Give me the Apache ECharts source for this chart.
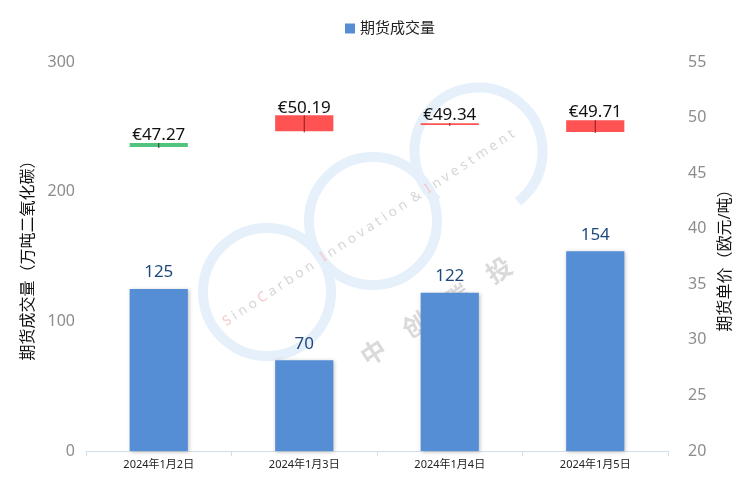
<!DOCTYPE html>
<html>
<head>
<meta charset="utf-8">
<script src="https://cdn.jsdelivr.net/npm/echarts@6/dist/echarts.min.js"></script>
<style>
html,body{margin:0;padding:0;background:#fff;}
#chart{width:744px;height:483px;}
</style>
</head>
<body>
<div id="chart"></div>
<script>
const categories = ['2024年1月2日', '2024年1月3日', '2024年1月4日', '2024年1月5日'];
const volume = [125, 70, 122, 154];
const priceOpen = [47.72, 48.76, 49.34, 48.70];
const priceClose = [47.35, 50.21, 49.50, 49.77];
const priceLabel = [47.27, 50.19, 49.34, 49.71];
const volAxis = [0, 300, 100];
const priceAxis = [20, 55, 5];

const FONT = '"Noto Sans", "Noto Sans CJK SC", sans-serif';
const deg = Math.PI / 180;
const ringColor = '#e6f0fa';
const sp = s => s.split('').join(' ');

const chart = echarts.init(document.getElementById('chart'), null, {renderer: 'canvas'});

const wm = [
  {type: 'circle', z: 0, silent: true, shape: {cx: 267, cy: 292, r: 64}, style: {fill: 'none', stroke: ringColor, lineWidth: 10}},
  {type: 'circle', z: 0, silent: true, shape: {cx: 373, cy: 221, r: 64}, style: {fill: 'none', stroke: ringColor, lineWidth: 10}},
  {type: 'arc', z: 0, silent: true, shape: {cx: 478.5, cy: 151.5, r: 64, startAngle: 130 * deg, endAngle: 52 * deg, clockwise: true}, style: {fill: 'none', stroke: ringColor, lineWidth: 10}},
  {type: 'text', z: 1, silent: true, x: 224, y: 323, rotation: 33.3 * deg,
    style: {
      text: '{r|S}{g| ' + sp('ino') + ' }{r|C}{g| ' + sp('arbon') + '   }{r|I}{g| ' + sp('nnovation') + '  &  }{r|I}{g| ' + sp('nvestment') + '}',
      font: '13.6px ' + FONT, align: 'left', verticalAlign: 'middle',
      rich: {r: {fill: '#f6c8c8', fontSize: 13.6, fontFamily: FONT}, g: {fill: '#d6d6d6', fontSize: 13.6, fontFamily: FONT}}
    }},
  {type: 'text', z: 1, silent: true, x: 436, y: 311, rotation: 33.3 * deg,
    style: {text: '中　创　碳　投', font: 'bold 25px "Noto Sans CJK SC", sans-serif', fill: '#dadada', align: 'center', verticalAlign: 'middle'}}
];

const option = {
  backgroundColor: '#fff',
  animation: false,
  textStyle: {fontFamily: FONT},
  graphic: {elements: wm},
  legend: {
    data: ['期货成交量'], top: 16, left: 340,
    icon: 'rect', itemWidth: 10, itemHeight: 10, itemGap: 6,
    textStyle: {fontSize: 15, color: '#222', fontFamily: FONT}
  },
  grid: {left: 86, right: 76, top: 62, bottom: 32},
  xAxis: {
    type: 'category', data: categories,
    axisLine: {lineStyle: {color: '#d3deec', width: 1}},
    axisTick: {show: true, length: 5, lineStyle: {color: '#d3deec'}},
    axisLabel: {fontSize: 11, color: '#222', margin: 8, fontFamily: FONT}
  },
  yAxis: [
    {
      type: 'value', min: volAxis[0], max: volAxis[1], interval: volAxis[2],
      name: '期货成交量（万吨二氧化碳）', nameLocation: 'middle', nameRotate: 90, nameGap: 50,
      nameTextStyle: {fontSize: 16, color: '#111', fontFamily: FONT},
      axisLine: {show: false}, axisTick: {show: false}, splitLine: {show: false},
      axisLabel: {fontSize: 16, color: '#8c8c8c', margin: 11, fontFamily: FONT}
    },
    {
      type: 'value', min: priceAxis[0], max: priceAxis[1], interval: priceAxis[2],
      name: '期货单价（欧元/吨）', nameLocation: 'middle', nameRotate: 90, nameGap: 46,
      nameTextStyle: {fontSize: 16, color: '#111', fontFamily: FONT},
      axisLine: {show: false}, axisTick: {show: false}, splitLine: {show: false},
      axisLabel: {fontSize: 16, color: '#8c8c8c', margin: 20, fontFamily: FONT}
    }
  ],
  series: [
    {
      name: '期货成交量', type: 'bar', yAxisIndex: 0, data: volume, barWidth: '40%', z: 2,
      itemStyle: {color: '#558ed5', shadowBlur: 4, shadowColor: 'rgba(0,0,0,0.25)', shadowOffsetX: 1, shadowOffsetY: 1},
      label: {show: true, position: 'top', distance: 8, fontSize: 17, color: '#1f497d', fontFamily: FONT}
    },
    {
      name: '期货单价', type: 'custom', yAxisIndex: 1, z: 3,
      data: categories.map((c, i) => [i, priceOpen[i], priceClose[i], priceLabel[i]]),
      encode: {x: 0, y: [1, 2]},
      renderItem: function (params, api) {
        const i = api.value(0), o = api.value(1), c = api.value(2), lab = api.value(3);
        const pO = api.coord([i, o]);
        const pC = api.coord([i, c]);
        const w = api.size([1, 0])[0] * 0.4;
        const top = Math.min(pO[1], pC[1]);
        const bot = Math.max(pO[1], pC[1]);
        const up = c >= o;
        return {
          type: 'group',
          children: [
            {type: 'rect', shape: {x: pO[0] - w / 2, y: top, width: w, height: Math.max(bot - top, 1.6)},
              style: {fill: up ? '#ff5353' : '#50c47f'}},
            {type: 'line', shape: {x1: pO[0], y1: top, x2: pO[0], y2: bot + 1},
              style: {stroke: up ? '#8b1c1c' : '#333', lineWidth: 1}},
            {type: 'text', x: pO[0], y: top + 1,
              style: {text: '€' + lab.toFixed(2), fill: '#111', font: '17px ' + FONT, align: 'center', verticalAlign: 'bottom'}}
          ]
        };
      }
    }
  ]
};
chart.setOption(option);
</script>
</body>
</html>
